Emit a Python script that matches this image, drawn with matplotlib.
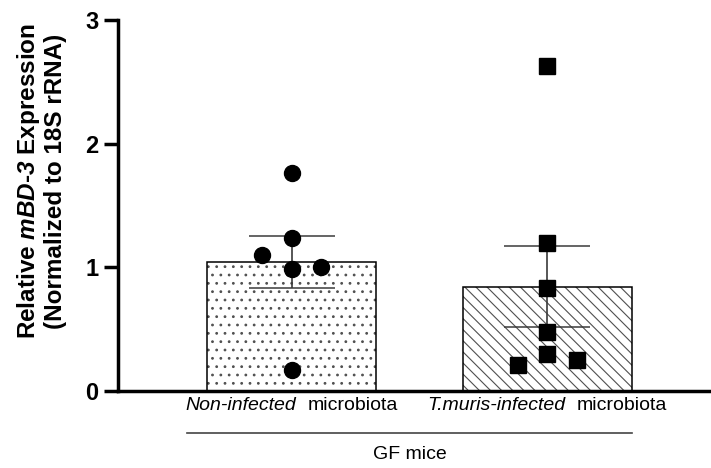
import numpy as np
import matplotlib
matplotlib.use("Agg")
import matplotlib.pyplot as plt
from matplotlib.offsetbox import TextArea, HPacker, AnnotationBbox

# Relative mBD-3 expression for each mouse, per group
group_italic = ["Non-infected", "T.muris-infected"]
group_suffix = ["microbiota", "microbiota"]
non_infected = [1.76, 1.24, 1.10, 0.99, 1.00, 0.17]
non_infected_jitter = [0, 0, -0.117, 0, 0.117, 0]
tmuris_infected = [2.63, 1.20, 0.83, 0.48, 0.30, 0.21, 0.25]
tmuris_jitter = [0, 0, 0, 0, 0, -0.117, 0.117]
yticks = [0, 1, 2, 3]

plt.rcParams["font.family"] = ["Liberation Sans", "DejaVu Sans"]
plt.rcParams["mathtext.fontset"] = "custom"
plt.rcParams["mathtext.rm"] = "Liberation Sans"
plt.rcParams["mathtext.bf"] = "Liberation Sans:bold"
plt.rcParams["mathtext.bfit"] = "Liberation Sans:italic:bold"
plt.rcParams["hatch.linewidth"] = 0.8


def mean_sem(vals):
    v = np.asarray(vals)
    return v.mean(), v.std(ddof=1) / np.sqrt(len(v))


fig = plt.figure(figsize=(7.11, 4.68), dpi=100)
ax = fig.add_axes([0.166, 0.1645, 0.834, 0.793])

data = [non_infected, tmuris_infected]
jitters = [non_infected_jitter, tmuris_jitter]
hatches = ["..", "\\\\\\"]
markers = ["o", "s"]
xpos = np.arange(len(data))
width = 0.66

for i, (vals, jit) in enumerate(zip(data, jitters)):
    m, s = mean_sem(vals)
    # hatch layer, then a black outline on top
    ax.bar(xpos[i], m, width, color="white", edgecolor="#505050",
           hatch=hatches[i], linewidth=0, zorder=1)
    ax.bar(xpos[i], m, width, fill=False, edgecolor="black",
           linewidth=1.1, zorder=1.5)
    ax.errorbar(xpos[i], m, yerr=s, fmt="none", ecolor="#3a3a3a",
                elinewidth=1.2, capsize=31, capthick=1.1, zorder=2)
    ax.plot(xpos[i] + np.array(jit), vals, linestyle="none",
            marker=markers[i], markersize=11.5, color="black", zorder=3)

ax.set_xlim(-0.678, 1.639)
ax.set_ylim(0, 3)
ax.set_yticks(yticks)
ax.set_yticklabels([str(t) for t in yticks], fontsize=17, fontweight="bold")
ax.tick_params(axis="y", length=10, width=2.5, pad=4)
ax.set_xticks(xpos)
ax.tick_params(axis="x", length=0, labelbottom=False)

for side in ["top", "right"]:
    ax.spines[side].set_visible(False)
for side in ["left", "bottom"]:
    ax.spines[side].set_linewidth(2.5)

ax.set_ylabel("Relative $\\mathbfit{mBD}$-$\\mathbfit{3}$ Expression\n(Normalized to 18S rRNA)",
              fontsize=17.5, fontweight="bold", linespacing=1.1)
ax.yaxis.set_label_coords(-0.086, 0.566)

trans = ax.get_xaxis_transform()

# category labels: italic group name followed by plain "microbiota"
for x, it, rest in zip(xpos, group_italic, group_suffix):
    box = HPacker(children=[
        TextArea(it, textprops=dict(fontsize=14, style="italic")),
        TextArea(rest, textprops=dict(fontsize=14)),
    ], sep=8, pad=0, align="baseline")
    ab = AnnotationBbox(box, (x, -0.04), xycoords=trans,
                        box_alignment=(0.5, 0.5), frameon=False,
                        annotation_clip=False)
    ax.add_artist(ab)

# group bracket under the category labels
ax.plot([-0.408, 1.330], [-0.112, -0.112], color="#444444", linewidth=1.2,
        transform=trans, clip_on=False)
ax.text(0.463, -0.172, "GF mice", transform=trans, ha="center", va="center",
        fontsize=14)

fig.savefig("out.png", dpi=100)
